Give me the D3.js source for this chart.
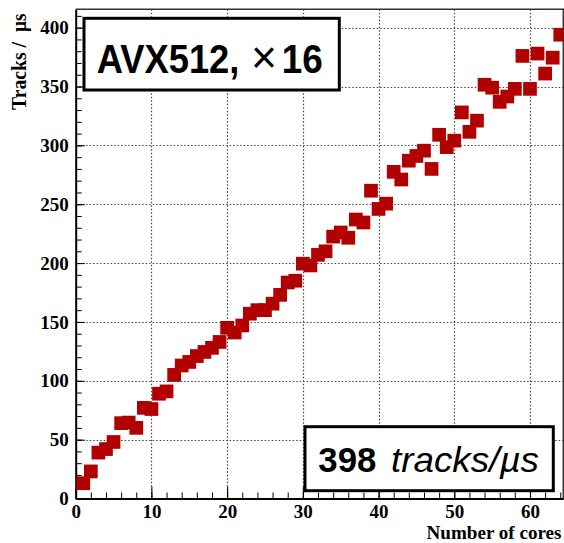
<!DOCTYPE html>
<html>
<head>
<meta charset="utf-8">
<script src="https://cdn.jsdelivr.net/npm/d3@7"></script>
<style>
  body { margin: 0; background: #fff; }
  svg { display: block; }
  .tick text { font-family: "Liberation Serif", "Times New Roman", serif; font-weight: bold; font-size: 19px; fill: #000; }
</style>
</head>
<body>
<script>
var width = 564;
var height = 543;

// number of cores (x) and measured throughput, tracks per microsecond (y)
var cores = [1, 2, 3, 4, 5, 6, 7, 8, 9, 10, 11, 12, 13, 14, 15, 16,
  17, 18, 19, 20, 21, 22, 23, 24, 25, 26, 27, 28, 29, 30, 31, 32,
  33, 34, 35, 36, 37, 38, 39, 40, 41, 42, 43, 44, 45, 46, 47, 48,
  49, 50, 51, 52, 53, 54, 55, 56, 57, 58, 59, 60, 61, 62, 63, 64];
var tracks = [13, 23, 39, 42, 48, 64, 64.5, 60, 77, 76, 89, 91, 105, 113, 116, 121,
  124.5, 128, 133, 145, 141, 147, 157, 160, 160, 165.5, 173, 183.5, 185, 199.5, 198, 207,
  210, 222.5, 226, 221.5, 237, 234.5, 261.5, 246, 250.5, 277.5, 271, 287, 291, 295.5, 280, 309,
  298.5, 304, 328, 311.5, 321, 351.5, 349, 337, 341.5, 348, 376, 348, 378, 361, 374.5, 394];

var xTicks = [0, 10, 20, 30, 40, 50, 60];
var yTicks = [0, 50, 100, 150, 200, 250, 300, 350, 400];

var xTitle = 'Number of cores';
var yTitleA = 'Tracks /';
var yTitleB = '\u00b5s';
var boxTopName = 'AVX512,';
var boxTopTimes = '\u00d7';
var boxTopWidth = '16';
var boxBottomNum = '398';
var boxBottomUnit = 'tracks/\u00b5s';

var serif = '"Liberation Serif", "Times New Roman", serif';
var sans = '"Liberation Sans", Arial, sans-serif';

var x = d3.scaleLinear().domain([0, 64.4]).range([75.7, 563.3]);
var y = d3.scaleLinear().domain([0, 415.6]).range([498.5, 9.3]);

var svg = d3.select('body').append('svg')
  .attr('width', width)
  .attr('height', height);

svg.append('clipPath').attr('id', 'frame')
  .append('rect')
  .attr('x', x(0)).attr('y', y(415.6))
  .attr('width', x(64.4) - x(0)).attr('height', y(0) - y(415.6));

// grid
var grid = svg.append('g')
  .attr('stroke', '#444')
  .attr('stroke-width', 1.2)
  .attr('stroke-dasharray', '1.5,2');
grid.selectAll('.gx').data(xTicks.slice(1)).enter().append('line')
  .attr('x1', function(d) { return Math.round(x(d)) + 0.5; })
  .attr('x2', function(d) { return Math.round(x(d)) + 0.5; })
  .attr('y1', y(415.6)).attr('y2', y(0));
grid.selectAll('.gy').data(yTicks.slice(1)).enter().append('line')
  .attr('y1', function(d) { return Math.round(y(d)) + 0.5; })
  .attr('y2', function(d) { return Math.round(y(d)) + 0.5; })
  .attr('x1', x(0)).attr('x2', x(64.4));

// minor ticks
svg.append('g')
  .attr('transform', 'translate(0,' + y(0) + ')')
  .call(d3.axisBottom(x).tickValues(d3.range(0, 65, 2)).tickSize(-6).tickFormat(''))
  .call(function(g) { g.select('.domain').remove(); });
svg.append('g')
  .attr('transform', 'translate(' + x(0) + ',0)')
  .call(d3.axisLeft(y).tickValues(d3.range(0, 416, 10)).tickSize(-6).tickFormat(''))
  .call(function(g) { g.select('.domain').remove(); });

// major axes
svg.append('g')
  .attr('transform', 'translate(0,' + y(0) + ')')
  .call(d3.axisBottom(x).tickValues(xTicks).tickSize(-12).tickPadding(6).tickSizeOuter(0))
  .call(function(g) { g.select('.domain').attr('stroke-width', 2); });
svg.append('g')
  .attr('transform', 'translate(' + x(0) + ',0)')
  .call(d3.axisLeft(y).tickValues(yTicks).tickSize(-9).tickPadding(7).tickSizeOuter(0))
  .call(function(g) { g.select('.domain').attr('stroke-width', 2); });

// frame top/right
svg.append('path')
  .attr('d', 'M' + x(0) + ',' + y(415.6) + 'H' + x(64.4) + 'V' + y(0))
  .attr('fill', 'none')
  .attr('stroke', '#333')
  .attr('stroke-width', 1.5);

// markers
var size = 13.7;
svg.append('g').attr('clip-path', 'url(#frame)')
  .selectAll('rect').data(cores).enter().append('rect')
  .attr('x', function(d) { return x(d) - size / 2; })
  .attr('y', function(d, i) { return y(tracks[i]) - size / 2; })
  .attr('width', size).attr('height', size)
  .attr('fill', '#b20000');

// axis titles
svg.append('text')
  .attr('x', 561.5).attr('y', 538.8)
  .attr('text-anchor', 'end')
  .attr('textLength', 135).attr('lengthAdjust', 'spacingAndGlyphs')
  .style('font-family', serif).style('font-weight', 'bold').style('font-size', '18.5px')
  .text(xTitle);
svg.append('text')
  .attr('transform', 'translate(25.7,110) rotate(-90)')
  .attr('textLength', 68).attr('lengthAdjust', 'spacingAndGlyphs')
  .style('font-family', serif).style('font-weight', 'bold').style('font-size', '21px')
  .text(yTitleA);
svg.append('text')
  .attr('transform', 'translate(25.7,32) rotate(-90)')
  .attr('textLength', 18.5).attr('lengthAdjust', 'spacingAndGlyphs')
  .style('font-family', serif).style('font-weight', 'bold').style('font-size', '21px')
  .text(yTitleB);

// label boxes
svg.append('rect')
  .attr('x', 84).attr('y', 18.3).attr('width', 255.3).attr('height', 71.7)
  .attr('fill', '#fff').attr('stroke', '#000').attr('stroke-width', 3);
svg.append('text')
  .attr('transform', 'translate(96.7,73.3) scale(1,1.15)')
  .attr('textLength', 142.7).attr('lengthAdjust', 'spacingAndGlyphs')
  .style('font-family', sans).style('font-weight', 'bold').style('font-size', '35.7px')
  .text(boxTopName);
svg.append('text')
  .attr('transform', 'translate(251,73.3) scale(1,1.15)')
  .attr('textLength', 26).attr('lengthAdjust', 'spacingAndGlyphs')
  .style('font-family', sans).style('font-weight', 'normal').style('font-size', '40px')
  .text(boxTopTimes);
svg.append('text')
  .attr('transform', 'translate(281.7,73.3) scale(1,1.15)')
  .attr('textLength', 41).attr('lengthAdjust', 'spacingAndGlyphs')
  .style('font-family', sans).style('font-weight', 'bold').style('font-size', '35.7px')
  .text(boxTopWidth);

svg.append('rect')
  .attr('x', 305).attr('y', 426.7).attr('width', 248.3).attr('height', 64)
  .attr('fill', '#fff').attr('stroke', '#000').attr('stroke-width', 3);
svg.append('text')
  .attr('x', 318.3).attr('y', 472.3)
  .attr('textLength', 58).attr('lengthAdjust', 'spacingAndGlyphs')
  .style('font-family', sans).style('font-weight', 'bold').style('font-size', '35px')
  .text(boxBottomNum);
svg.append('text')
  .attr('x', 391).attr('y', 472.3)
  .attr('textLength', 148).attr('lengthAdjust', 'spacingAndGlyphs')
  .style('font-family', sans).style('font-style', 'italic').style('font-size', '35px')
  .text(boxBottomUnit);
</script>
</body>
</html>
